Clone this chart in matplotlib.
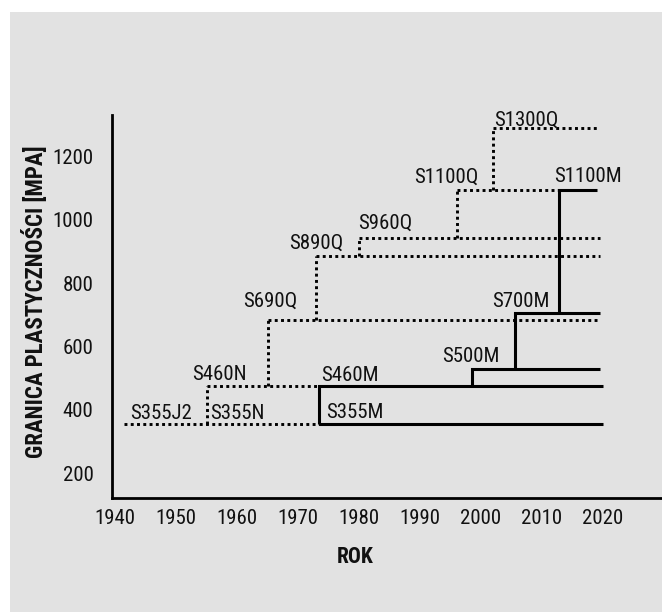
import matplotlib
matplotlib.use("Agg")
import matplotlib.pyplot as plt
from matplotlib.patches import Rectangle

# ---- data ----
# dotted grades (normalised / quenched): name, yield level [MPa], start year, end year
q_names = ["S355J2", "S460N", "S690Q", "S890Q", "S960Q", "S1100Q", "S1300Q"]
q_values = [355, 475, 683, 886, 943, 1095, 1290]
q_start = [1941.5, 1955.0, 1965.0, 1973.0, 1980.0, 1996.0, 2002.0]
q_end = [2002.0, 1973.5, 2019.5, 2019.5, 2019.5, 2012.8, 2019.0]

# solid grades (thermomechanical)
m_names = ["S355M", "S460M", "S500M", "S700M", "S1100M"]
m_values = [355, 475, 529, 705, 1095]
m_start = [1973.5, 1973.5, 1998.6, 2005.6, 2012.8]
m_end = [2020.0, 2020.0, 2019.5, 2019.5, 2019.0]

# extra label without own line
extra_names = ["S355N"]

x_ticks = [1940, 1950, 1960, 1970, 1980, 1990, 2000, 2010, 2020]
y_ticks = [200, 400, 600, 800, 1000, 1200]

# label anchor positions (data coords) and alignment
label_pos = {
    "S355J2": (1952.6, 390, "right"),
    "S355N": (1955.6, 390, "left"),
    "S460N": (1961.6, 513, "right"),
    "S460M": (1973.8, 510, "left"),
    "S355M": (1974.6, 393, "left"),
    "S690Q": (1969.9, 744, "right"),
    "S500M": (2003.1, 568, "right"),
    "S700M": (2011.3, 744, "right"),
    "S1100M": (2012.0, 1136, "left"),
    "S1300Q": (2002.2, 1315, "left"),
    "S1100Q": (1999.5, 1136, "right"),
    "S960Q": (1979.8, 989, "left"),
    "S890Q": (1977.5, 926, "right"),
}

FAM = ["Roboto Condensed", "Roboto", "DejaVu Sans"]
plt.rcParams["font.family"] = FAM
FS = 15

W, H = 662, 612
fig = plt.figure(figsize=(W / 100, H / 100), dpi=100)
fig.patch.set_facecolor("white")
fig.add_artist(Rectangle((10 / W, 0), 1, (H - 12) / H, transform=fig.transFigure,
                         facecolor="#e2e2e2", edgecolor="none", zorder=-10))

left_px, bottom_px, top_px = 111.5, 497.7, 115
ax = fig.add_axes([left_px / W, (H - bottom_px) / H, (W - left_px) / W, (bottom_px - top_px) / H])
ax.patch.set_alpha(0)
px_per_year = 6.1
px_per_mpa = 0.3167
ax.set_xlim(1940 - 3.5 / px_per_year, 1940 + (W - 115) / px_per_year)
ax.set_ylim(200 - (bottom_px - 473.3) / px_per_mpa, 200 + (473.3 - top_px) / px_per_mpa)

dot_kw = dict(color="black", lw=2.1, linestyle=(0, (1, 1.15)), dash_capstyle="butt")
for i, (v, s, e) in enumerate(zip(q_values, q_start, q_end)):
    ax.plot([s, e], [v, v], zorder=2, **dot_kw)
    if i > 0:
        ax.plot([s, s], [q_values[i - 1], v], zorder=2, **dot_kw)

sol_kw = dict(color="black", lw=2.2, solid_capstyle="butt")
for i, (v, s, e) in enumerate(zip(m_values, m_start, m_end)):
    if i > 0:
        ax.plot([s, s, e], [m_values[i - 1], v, v], zorder=3, solid_joinstyle="miter", **sol_kw)
    else:
        ax.plot([s, e], [v, v], zorder=3, **sol_kw)

for name in q_names + m_names + extra_names:
    x, y, ha = label_pos[name]
    ax.text(x, y, name, ha=ha, va="center", fontsize=FS, color="#111111", zorder=4)

for sp in ["top", "right"]:
    ax.spines[sp].set_visible(False)
for sp in ["left", "bottom"]:
    ax.spines[sp].set_linewidth(2.0)
    ax.spines[sp].set_color("black")

ax.set_xticks(x_ticks)
ax.set_yticks(y_ticks)
ax.tick_params(axis="both", length=0, labelsize=FS, colors="#111111")
ax.tick_params(axis="y", pad=13)
ax.tick_params(axis="x", pad=8)

fig.text(35 / W, (H - 302) / H, "GRANICA PLASTYCZNOŚCI [MPA]", rotation=90,
         ha="center", va="center", fontsize=16.5, fontweight="bold", color="#111111")
fig.text(355 / W, (H - 557) / H, "ROK", ha="center", va="center",
         fontsize=15.5, fontweight="bold", color="#111111")

fig.savefig("out.png", dpi=100)
